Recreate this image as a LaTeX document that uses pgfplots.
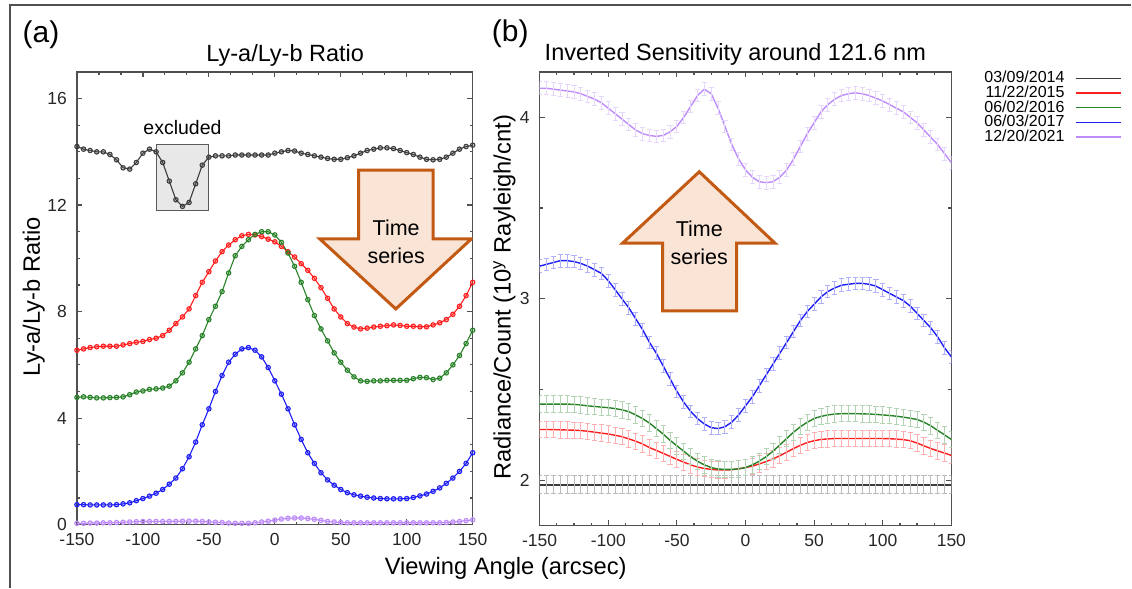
\documentclass[border=0pt]{standalone}
\usepackage{fontspec}
\setmainfont{Liberation Sans}
\usepackage{pgfplots}
\pgfplotsset{compat=1.18}
\usepackage{pgfplotstable}

\definecolor{axgray}{RGB}{80,80,80}
\definecolor{cK}{RGB}{60,60,60}
\definecolor{cR}{RGB}{255,30,30}
\definecolor{cG}{RGB}{40,130,40}
\definecolor{cB}{RGB}{30,30,245}
\definecolor{cP}{RGB}{190,140,250}
\definecolor{arrowedge}{RGB}{195,90,20}
\definecolor{arrowfill}{RGB}{250,228,214}

\pgfplotstableread{
x k r g b p
-150 14.20 6.55 4.78 0.75 0.05
-145 14.10 6.60 4.80 0.75 0.05
-140 14.05 6.65 4.78 0.74 0.06
-135 14.00 6.68 4.76 0.74 0.06
-130 14.00 6.70 4.76 0.74 0.07
-125 13.90 6.70 4.77 0.74 0.07
-120 13.70 6.70 4.78 0.75 0.08
-115 13.40 6.75 4.80 0.78 0.09
-110 13.35 6.80 4.88 0.82 0.10
-105 13.60 6.85 4.98 0.90 0.11
-100 13.95 6.88 5.02 0.98 0.12
-95 14.10 6.95 5.08 1.07 0.12
-90 14.00 7.00 5.10 1.18 0.12
-85 13.60 7.10 5.13 1.32 0.12
-80 12.90 7.30 5.20 1.52 0.12
-75 12.20 7.55 5.40 1.75 0.12
-70 11.95 7.80 5.70 2.10 0.13
-65 12.10 8.10 6.10 2.55 0.13
-60 12.80 8.60 6.60 3.10 0.13
-55 13.50 9.10 7.10 3.75 0.12
-50 13.80 9.50 7.70 4.35 0.10
-45 13.85 9.90 8.20 5.00 0.09
-40 13.85 10.25 8.75 5.60 0.08
-35 13.85 10.50 9.45 6.10 0.06
-30 13.88 10.70 10.10 6.40 0.05
-25 13.88 10.85 10.45 6.60 0.05
-20 13.88 10.90 10.70 6.65 0.05
-15 13.88 10.88 10.90 6.55 0.07
-10 13.88 10.82 11.00 6.30 0.10
-5 13.88 10.72 11.00 5.90 0.13
0 13.95 10.62 10.88 5.40 0.17
5 14.00 10.45 10.60 4.90 0.21
10 14.05 10.25 10.20 4.35 0.24
15 14.03 10.05 9.70 3.75 0.25
20 13.95 9.80 9.10 3.20 0.25
25 13.90 9.55 8.45 2.70 0.23
30 13.85 9.25 7.85 2.30 0.20
35 13.80 8.90 7.35 1.95 0.16
40 13.75 8.50 6.90 1.68 0.12
45 13.72 8.10 6.45 1.48 0.10
50 13.72 7.80 6.10 1.32 0.08
55 13.78 7.55 5.80 1.20 0.07
60 13.85 7.42 5.55 1.12 0.07
65 13.95 7.35 5.40 1.07 0.07
70 14.05 7.38 5.38 1.03 0.07
75 14.10 7.42 5.40 1.00 0.07
80 14.15 7.45 5.40 0.98 0.07
85 14.15 7.47 5.42 0.97 0.07
90 14.12 7.50 5.42 0.97 0.07
95 14.05 7.48 5.42 0.97 0.07
100 13.97 7.45 5.42 0.98 0.07
105 13.90 7.45 5.48 1.02 0.07
110 13.80 7.43 5.53 1.08 0.07
115 13.72 7.43 5.52 1.15 0.07
120 13.70 7.50 5.45 1.25 0.07
125 13.72 7.58 5.50 1.38 0.07
130 13.80 7.70 5.70 1.55 0.08
135 13.95 7.90 6.00 1.75 0.10
140 14.10 8.20 6.35 2.00 0.12
145 14.20 8.60 6.80 2.30 0.15
150 14.25 9.10 7.30 2.70 0.18
}\leftdata

\pgfplotstableread{
x k r g b p
-150 1.975 2.280 2.420 3.180 4.160
-145 1.975 2.280 2.420 3.190 4.160
-140 1.975 2.279 2.420 3.200 4.155
-135 1.975 2.278 2.420 3.210 4.150
-130 1.975 2.277 2.420 3.210 4.145
-125 1.975 2.276 2.418 3.205 4.140
-120 1.975 2.274 2.415 3.195 4.130
-115 1.975 2.270 2.410 3.180 4.115
-110 1.975 2.265 2.407 3.160 4.100
-105 1.975 2.260 2.403 3.140 4.080
-100 1.975 2.255 2.400 3.100 4.050
-95 1.975 2.248 2.395 3.050 4.020
-90 1.975 2.240 2.388 3.000 3.990
-85 1.975 2.228 2.378 2.950 3.960
-80 1.975 2.215 2.360 2.890 3.930
-75 1.975 2.200 2.340 2.830 3.910
-70 1.975 2.180 2.315 2.760 3.900
-65 1.975 2.165 2.285 2.700 3.895
-60 1.975 2.148 2.255 2.630 3.900
-55 1.975 2.132 2.220 2.560 3.920
-50 1.975 2.115 2.190 2.490 3.950
-45 1.975 2.100 2.160 2.430 4.000
-40 1.975 2.085 2.130 2.380 4.060
-35 1.975 2.073 2.105 2.340 4.120
-30 1.975 2.065 2.085 2.310 4.155
-25 1.975 2.060 2.070 2.290 4.130
-20 1.975 2.057 2.062 2.285 4.050
-15 1.975 2.057 2.060 2.295 3.950
-10 1.975 2.058 2.060 2.320 3.850
-5 1.975 2.063 2.063 2.360 3.770
0 1.975 2.070 2.070 2.410 3.710
5 1.975 2.078 2.085 2.460 3.670
10 1.975 2.090 2.105 2.520 3.645
15 1.975 2.103 2.130 2.580 3.640
20 1.975 2.118 2.160 2.640 3.645
25 1.975 2.135 2.195 2.700 3.670
30 1.975 2.155 2.230 2.760 3.710
35 1.975 2.175 2.265 2.820 3.770
40 1.975 2.193 2.295 2.880 3.840
45 1.975 2.208 2.320 2.930 3.910
50 1.975 2.218 2.340 2.970 3.970
55 1.975 2.225 2.352 3.010 4.030
60 1.975 2.228 2.360 3.040 4.070
65 1.975 2.230 2.365 3.060 4.100
70 1.975 2.230 2.367 3.075 4.120
75 1.975 2.230 2.367 3.080 4.130
80 1.975 2.230 2.367 3.085 4.135
85 1.975 2.230 2.366 3.085 4.130
90 1.975 2.230 2.365 3.080 4.120
95 1.975 2.230 2.363 3.070 4.105
100 1.975 2.230 2.360 3.050 4.090
105 1.975 2.229 2.357 3.030 4.070
110 1.975 2.227 2.353 3.010 4.050
115 1.975 2.224 2.348 2.990 4.030
120 1.975 2.218 2.342 2.960 4.000
125 1.975 2.205 2.335 2.920 3.970
130 1.975 2.190 2.320 2.880 3.930
135 1.975 2.175 2.300 2.840 3.890
140 1.975 2.162 2.275 2.790 3.850
145 1.975 2.150 2.250 2.730 3.800
150 1.975 2.137 2.225 2.680 3.750
}\rightdata

\pgfplotsset{
  panel/.style={
    scale only axis,
    xmin=-150, xmax=150,
    xtick={-150,-100,...,150},
    tick align=inside,
    axis line style={axgray, line width=0.75bp},
    major tick length=2.6bp, minor tick length=1.5bp,
    every tick/.style={axgray, line width=0.6bp},
    tick label style={font=\fontsize{8.75bp}{10bp}\selectfont, text=black!85},
    /pgf/number format/assume math mode=true,
    yticklabel style={xshift=-1.5bp},
    xticklabel style={yshift=-1bp},
  },
  lmark/.style={line width=0.55bp, #1, mark=*, mark size=1.1bp,
    mark options={draw=none, fill=#1, fill opacity=0.22}},
  rerr/.style n args={2}{line width=0.7bp, #1, no markers,
    error bars/.cd, y dir=both, y fixed=#2,
    error bar style={#1!35, line width=0.45bp},
    error mark options={rotate=90, mark size=1.3bp, #1!35, line width=0.45bp}},
}

\begin{document}
\begin{tikzpicture}
\path (0,0) rectangle (566bp,294bp);
% frame (top and left edges)
\draw[axgray, line width=0.75bp] (5bp,0bp) -- (5bp,291.5bp) -- (566bp,291.5bp);

% ---------------- panel (a)
\begin{axis}[panel,
  at={(38.5bp,31.5bp)}, anchor=south west,
  width=198bp, height=226.5bp,
  ymin=0, ymax=17,
  ytick={0,4,8,12,16},
  minor x tick num=2, minor y tick num=3,
]
\draw[draw=black!65, fill=black!9, line width=0.5bp] (axis cs:-90,11.8) rectangle (axis cs:-50,14.28);
\addplot[lmark=cK] table[x=x,y=k]{\leftdata};
\addplot[lmark=cR] table[x=x,y=r]{\leftdata};
\addplot[lmark=cG] table[x=x,y=g]{\leftdata};
\addplot[lmark=cB] table[x=x,y=b]{\leftdata};
\addplot[lmark=cP] table[x=x,y=p]{\leftdata};
\node[font=\fontsize{9.75bp}{11bp}\selectfont] at (axis cs:-70,14.9) {excluded};
\draw[arrowedge, fill=arrowfill, line width=1.5bp, line join=miter]
  (axis cs:63.6,13.31) -- (axis cs:120,13.31) -- (axis cs:120,10.73) -- (axis cs:149,10.73)
  -- (axis cs:91.7,8.10) -- (axis cs:34.1,10.73) -- (axis cs:63.6,10.73) -- cycle;
\node[align=center, font=\fontsize{10.75bp}{13.8bp}\selectfont] at (axis cs:92,10.62) {Time\\series};
\end{axis}

% ---------------- panel (b)
\begin{axis}[panel,
  at={(270bp,31bp)}, anchor=south west,
  width=206bp, height=227bp,
  ymin=1.75, ymax=4.25,
  ytick={2,3,4},
  minor x tick num=3, minor y tick num=1,
  legend style={at={(1.415,1.003)}, anchor=north east, draw=none, fill=none,
    inner sep=0pt, column sep=5.5bp, row sep=0pt,
    font=\fontsize{8bp}{8bp}\selectfont,
    nodes={inner sep=0pt, text height=5.9bp, text depth=1.45bp}},
  legend cell align=right, legend plot pos=right,
  legend image code/.code={\draw[#1] (0bp,0bp) -- (22.5bp,0bp);},
]
\addlegendimage{cK, line width=0.7bp}\addlegendentry{03/09/2014}
\addlegendimage{cR, line width=0.7bp}\addlegendentry{11/22/2015}
\addlegendimage{cG, line width=0.7bp}\addlegendentry{06/02/2016}
\addlegendimage{cB, line width=0.7bp}\addlegendentry{06/03/2017}
\addlegendimage{cP, line width=0.7bp}\addlegendentry{12/20/2021}
\addplot[forget plot, rerr={cK}{0.05}] table[x=x,y=k]{\rightdata};
\addplot[forget plot, rerr={cR}{0.045}] table[x=x,y=r]{\rightdata};
\addplot[forget plot, rerr={cG}{0.045}] table[x=x,y=g]{\rightdata};
\addplot[forget plot, rerr={cB}{0.035}] table[x=x,y=b]{\rightdata};
\addplot[forget plot, rerr={cP}{0.035}] table[x=x,y=p]{\rightdata};
\draw[arrowedge, fill=arrowfill, line width=1.5bp, line join=miter]
  (axis cs:-60.4,2.933) -- (axis cs:-6.5,2.933) -- (axis cs:-6.5,3.307) -- (axis cs:21.4,3.307)
  -- (axis cs:-33.7,3.70) -- (axis cs:-89.5,3.307) -- (axis cs:-60.4,3.307) -- cycle;
\node[align=center, font=\fontsize{10.75bp}{13.8bp}\selectfont] at (axis cs:-33.7,3.31) {Time\\series};
\end{axis}

% ---------------- labels
\node[anchor=base, font=\fontsize{15bp}{16bp}\selectfont] at (20.5bp,272.7bp) {(a)};
\node[anchor=base, font=\fontsize{15bp}{16bp}\selectfont] at (255.25bp,273.2bp) {(b)};
\node[anchor=base, font=\fontsize{11.75bp}{13bp}\selectfont] at (142.7bp,263.2bp) {Ly-a/Ly-b Ratio};
\node[anchor=base, font=\fontsize{11.75bp}{13bp}\selectfont] at (367.9bp,263.5bp) {Inverted Sensitivity around 121.6 nm};
\node[anchor=base, font=\fontsize{11.85bp}{13bp}\selectfont] at (253bp,6.5bp) {Viewing Angle (arcsec)};
\node[anchor=base, rotate=90, font=\fontsize{11.85bp}{13bp}\selectfont] at (20bp,145.5bp) {Ly-a/Ly-b Ratio};
\node[anchor=base, rotate=90, font=\fontsize{11.85bp}{13bp}\selectfont] at (255.5bp,145.25bp) {Radiance/Count (10\textsuperscript{y} Rayleigh/cnt)};
\end{tikzpicture}
\end{document}
